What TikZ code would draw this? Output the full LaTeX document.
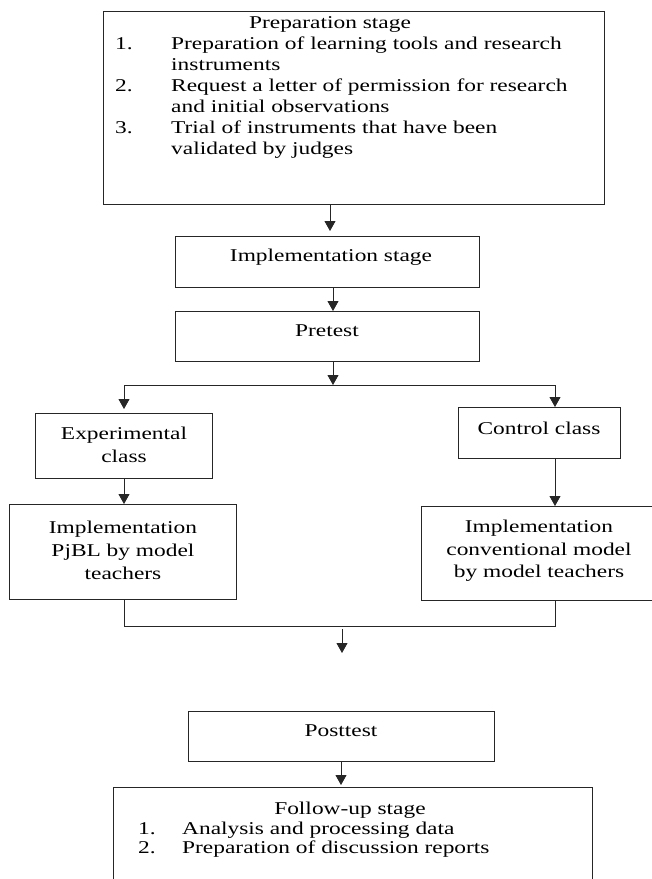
\documentclass[tikz,border=0pt]{standalone}
\usepackage{fontspec}
\setmainfont{Liberation Serif}[FakeStretch=1.3]
\usetikzlibrary{arrows.meta}
\newcommand\myfs{\fontsize{18}{21}\selectfont}
\begin{document}
\begin{tikzpicture}[x=1pt,y=-1pt,
 box/.style={draw=black!85,line width=0.9pt,inner sep=0pt,outer sep=0pt},
 txt/.style={font=\myfs,align=center,inner sep=0pt,text=black},
 arr/.style={draw=black!85,line width=0.9pt,-{Triangle[width=11pt,length=10pt]}},
 ln/.style={draw=black!85,line width=0.9pt}]
\useasboundingbox[fill=white] (0,0) rectangle (652,879);
% boxes
\node[box,minimum width=501pt,minimum height=193pt] (prep) at (353.5,107.5) {};
\node[box,minimum width=304pt,minimum height=51pt] (impl) at (327,261.5) {};
\node[box,minimum width=304pt,minimum height=50pt] (pre) at (327,336) {};
\node[box,minimum width=177pt,minimum height=65pt] (exp) at (123.5,445.5) {};
\node[box,minimum width=227pt,minimum height=95pt] (pjbl) at (122.5,551.5) {};
\node[box,minimum width=162pt,minimum height=51pt] (ctrl) at (539,432.5) {};
\node[box,minimum width=236pt,minimum height=94pt] (conv) at (539,553) {};
\node[box,minimum width=306pt,minimum height=50pt] (post) at (341,736) {};
\node[box,minimum width=479pt,minimum height=130pt] (follow) at (352.5,852) {};
% texts
\node[txt,anchor=base] (prepT) at (330,28) {Preparation stage};
\node[txt,anchor=base west,align=left] (prepL) at (115,49) {\begin{tabular}[t]{@{}p{56pt}@{}l@{}}
1. & Preparation of learning tools and research\\
 & instruments\\
2. & Request a letter of permission for research\\
 & and initial observations\\
3. & Trial of instruments that have been\\
 & validated by judges
\end{tabular}};
\node[txt] (implT) at (331,257) {Implementation stage};
\node[txt] (preT) at (327,331) {Pretest};
\node[txt,font=\fontsize{18}{23}\selectfont] (expT) at (124,444.5) {Experimental\\class};
\node[txt,font=\fontsize{18}{23}\selectfont] (pjblT) at (123,550) {Implementation\\PjBL by model\\teachers};
\node[txt] (ctrlT) at (539,428) {Control class};
\node[txt,font=\fontsize{18}{22.5}\selectfont] (convT) at (539,551) {Implementation\\conventional model\\by model teachers};
\node[txt] (postT) at (341,731) {Posttest};
\node[txt,anchor=base] (followT) at (350,814) {Follow-up stage};
\node[txt,anchor=base west,align=left,font=\fontsize{18}{19.5}\selectfont] (followL) at (138,834) {\begin{tabular}[t]{@{}p{44pt}@{}l@{}}
1. & Analysis and processing data\\
2. & Preparation of discussion reports
\end{tabular}};
% connectors
\draw[arr,shorten >=5pt] ([xshift=-23.5pt]prep.south) -- ([xshift=3pt]impl.north);
\draw[arr] ([xshift=6pt]impl.south) -- ([xshift=6pt]pre.north);
\coordinate (split) at (333,385);
\coordinate (sl) at (124,385);
\coordinate (sr) at (555,385);
\draw[arr] ([xshift=6pt]pre.south) -- (split);
\draw[ln] (sl) -- (sr);
\draw[arr,shorten >=4pt] (sl) -- (sl |- exp.north);
\draw[arr] (sr) -- (sr |- ctrl.north);
\draw[arr] (exp.south -| sl) -- (pjbl.north -| sl);
\draw[arr] (ctrl.south -| sr) -- (conv.north -| sr);
\coordinate (jl) at (124,626);
\coordinate (jr) at (555,626);
\draw[ln] (pjbl.south -| jl) -- (jl) -- (jr) -- (conv.south -| jr);
\coordinate (m1) at (342,629);
\coordinate (m2) at (342,653);
\draw[arr] (m1) -- (m2);
\draw[arr,shorten >=2pt] (post.south) -- (follow.north -| post.south);
\end{tikzpicture}
\end{document}
